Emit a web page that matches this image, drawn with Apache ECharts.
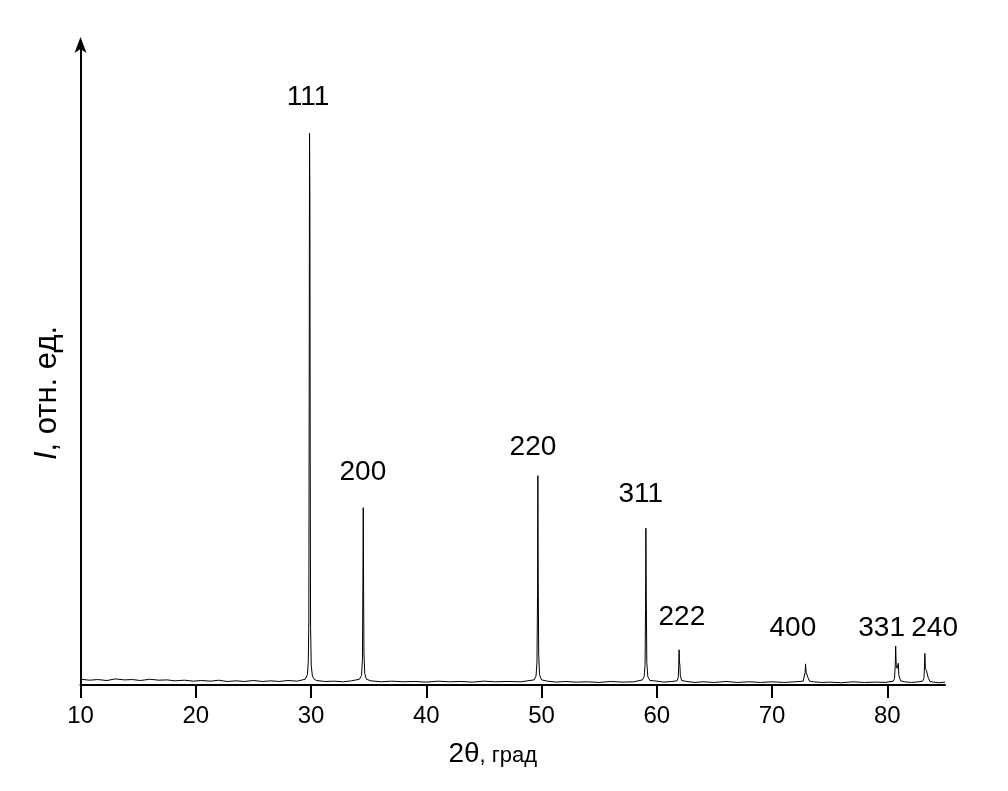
<!DOCTYPE html>
<html>
<head>
<meta charset="utf-8">
<script src="https://cdn.jsdelivr.net/npm/echarts@6/dist/echarts.min.js"></script>
<style>
  html, body { margin: 0; padding: 0; background: #fff; }
  #chart { width: 1008px; height: 791px; }
</style>
</head>
<body>
<div id="chart"></div>
<script>
// X-ray diffraction scan: [2θ (deg), intensity (arb. units)]
var scan = [
  [10, 0.9], [10.8, 0.75], [11.5, 0.85], [12.3, 0.7], [13, 0.95], [13.8, 0.8], [14.5, 0.85],
  [15.2, 0.7], [16, 0.9], [16.8, 0.75], [17.5, 0.8], [18.2, 0.65], [19, 0.75], [19.8, 0.6],
  [20.5, 0.7], [21.3, 0.6], [22, 0.75], [22.7, 0.55], [23.5, 0.65], [24.2, 0.55], [25, 0.7],
  [25.8, 0.55], [26.5, 0.65], [27.2, 0.55], [28, 0.7], [28.8, 0.6], [29.5, 0.9],
  [29.68, 1.6], [29.76, 3.5], [29.81, 10], [29.84, 45], [29.87, 86.2], [29.9, 76.4],
  [29.93, 35], [29.96, 9], [30.02, 3], [30.12, 1.4], [30.3, 0.85],
  [30.5, 0.7], [31.2, 0.55], [32, 0.6], [32.8, 0.5], [33.5, 0.65], [34.2, 0.9],
  [34.38, 1.5], [34.46, 4], [34.5, 16], [34.53, 27.7], [34.56, 14.8], [34.59, 5], [34.66, 1.8], [34.8, 0.9],
  [35.2, 0.65], [36.1, 0.5], [37, 0.6], [38, 0.5], [39, 0.55], [40, 0.45], [41, 0.6], [42, 0.5],
  [43, 0.55], [44, 0.45], [45, 0.6], [46, 0.5], [47, 0.55], [48.2, 0.5], [49.35, 0.8],
  [49.52, 1.4], [49.6, 3.5], [49.65, 14], [49.68, 32.7], [49.71, 16.4], [49.75, 5], [49.82, 1.6], [50.0, 0.8],
  [50.5, 0.6], [51.3, 0.45], [52, 0.55], [53, 0.45], [54, 0.5], [55, 0.4], [56, 0.55], [57, 0.45],
  [58, 0.5], [58.75, 0.8],
  [58.9, 1.3], [58.98, 3.2], [59.02, 12], [59.05, 24.5], [59.09, 12.8], [59.13, 3.5], [59.22, 1.3], [59.4, 0.7],
  [59.8, 0.65], [60.6, 0.45], [61.3, 0.55], [61.75, 0.65],
  [61.86, 1.2], [61.9, 3], [61.93, 5.5], [61.96, 3.6], [62.0, 3.1], [62.04, 1.5], [62.15, 0.7],
  [62.6, 0.55], [63.3, 0.4], [64, 0.5], [65, 0.4], [66, 0.55], [67, 0.4], [68, 0.5], [69, 0.4],
  [70, 0.5], [71, 0.4], [72, 0.5], [72.7, 0.6],
  [72.82, 0.9], [72.87, 2], [72.9, 3.3], [72.95, 2.0], [73.05, 2.2], [73.1, 1.2], [73.25, 0.6],
  [73.6, 0.5], [74.3, 0.4], [75, 0.45], [76, 0.35], [77, 0.5], [78, 0.4], [79, 0.45], [79.8, 0.4], [80.5, 0.6],
  [80.62, 1.0], [80.68, 3], [80.72, 6.1], [80.77, 3.0], [80.85, 2.6], [80.95, 3.4], [81.0, 1.5], [81.15, 0.65],
  [81.5, 0.5], [82.1, 0.4], [82.7, 0.5], [83.05, 0.6],
  [83.17, 1.0], [83.22, 2.8], [83.25, 4.95], [83.3, 2.6], [83.4, 2.2], [83.48, 2.5], [83.53, 1.2], [83.7, 0.55],
  [84, 0.45], [84.5, 0.35], [85, 0.45]
];

// Miller indices of reflections and where their labels sit (2θ, intensity)
var reflections = ['111', '200', '220', '311', '222', '400', '331', '240'];
var labelTheta  = [29.73, 34.5, 49.25, 58.6, 62.17, 71.8, 79.5, 84.1];
var labelHeight = [91.8, 33.3, 37.2, 29.8, 10.6, 8.9, 8.9, 8.9];

var xTicks = [10, 20, 30, 40, 50, 60, 70, 80];

var labelData = reflections.map(function (r, i) {
  return { value: [labelTheta[i], labelHeight[i]], name: r };
});

var FONT = '"Liberation Sans", Arial, Helvetica, sans-serif';

var chart = echarts.init(document.getElementById('chart'), null, { renderer: 'canvas' });
chart.setOption({
  animation: false,
  backgroundColor: '#ffffff',
  grid: { left: 80.5, right: 63, top: 45, bottom: 106, containLabel: false },
  xAxis: {
    type: 'value',
    min: 10,
    max: 85,
    interval: 10,
    name: '{a|2θ}{b|, град}',
    nameLocation: 'middle',
    nameGap: 55,
    nameTextStyle: {
      padding: [0, 40, 0, 0],
      rich: {
        a: { fontSize: 28, fontFamily: FONT, color: '#000' },
        b: { fontSize: 22, fontFamily: FONT, color: '#000', padding: [3, 0, 0, 0] }
      }
    },
    axisLine: { show: true, onZero: false, lineStyle: { color: '#000', width: 2 } },
    axisTick: { show: true, inside: false, length: 13, customValues: xTicks, lineStyle: { color: '#000', width: 2 } },
    axisLabel: { show: true, customValues: xTicks, margin: 19, fontSize: 24, fontFamily: FONT, color: '#000' },
    splitLine: { show: false }
  },
  yAxis: {
    type: 'value',
    min: 0,
    max: 100,
    name: '{i|I}{n|, отн. ед.}',
    nameLocation: 'middle',
    nameGap: 18,
    nameRotate: 90,
    nameTextStyle: {
      padding: [0, 56, 0, 0],
      rich: {
        i: { fontSize: 31, fontFamily: FONT, fontStyle: 'italic', color: '#000' },
        n: { fontSize: 31, fontFamily: FONT, color: '#000' }
      }
    },
    axisLine: { show: true, onZero: false, symbol: ['none', 'arrow'], symbolSize: [9, 16], symbolOffset: [0, 8], lineStyle: { color: '#000', width: 2 } },
    axisTick: { show: false },
    axisLabel: { show: false },
    splitLine: { show: false }
  },
  series: [
    {
      type: 'line',
      data: scan,
      showSymbol: false,
      symbol: 'none',
      smooth: false,
      clip: true,
      lineStyle: { color: '#000', width: 1 }
    },
    {
      type: 'scatter',
      data: labelData,
      symbolSize: 0,
      silent: true,
      itemStyle: { opacity: 1, color: '#000' },
      label: {
        show: true,
        position: 'inside',
        formatter: function (p) { return p.name; },
        fontSize: 28,
        fontFamily: FONT,
        color: '#000',
        opacity: 1
      }
    }
  ]
});
</script>
</body>
</html>
